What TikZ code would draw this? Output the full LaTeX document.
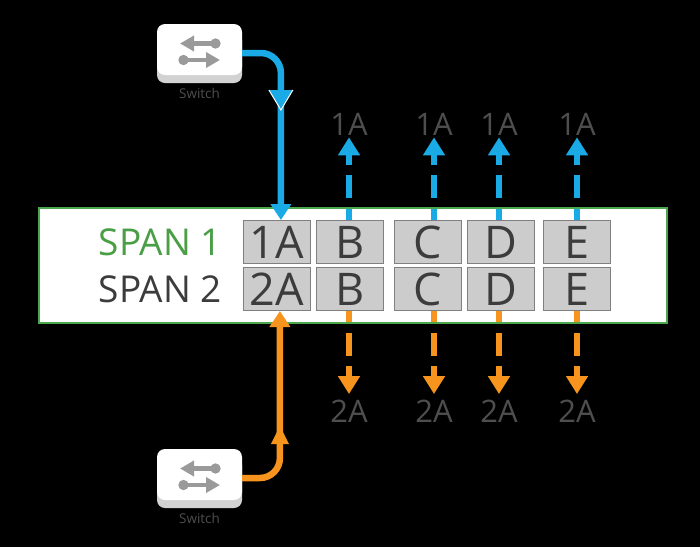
\documentclass[tikz,border=0pt]{standalone}
\usepackage{fontspec}
\setmainfont{Open Sans}
\usepackage{xcolor}
\usepackage{tikz}
\usetikzlibrary{arrows.meta,positioning,shadows}
\definecolor{wireblue}{HTML}{1AABE6}
\definecolor{wireorange}{HTML}{F7941E}
\definecolor{rackgreen}{HTML}{4CA64C}
\definecolor{spangreen}{HTML}{4A9E45}
\definecolor{slotfill}{HTML}{CCCCCC}
\definecolor{slotedge}{HTML}{808080}
\definecolor{inkdark}{HTML}{3C3C3C}
\definecolor{inkgray}{HTML}{4E4E4E}
\definecolor{swshade}{HTML}{D2D2D2}
\definecolor{swgray}{HTML}{9A9A9A}

\begin{document}
\begin{tikzpicture}[
  x=1pt, y=-1pt,
  node distance=5pt,
  rack/.style={rectangle, draw=rackgreen, line width=2.5pt, fill=white,
    minimum width=628pt, minimum height=115pt},
  slot/.style={rectangle, draw=slotedge, line width=1pt, fill=slotfill,
    minimum width=67pt, minimum height=43pt, inner sep=0pt, text=inkdark,
    font=\fontsize{45}{45}\selectfont},
  spanlbl/.style={inner sep=0pt, font=\fontsize{37}{37}\selectfont},
  portlbl/.style={inner sep=0pt, text=inkgray, font=\fontsize{31}{31}\selectfont},
  switchbox/.style={rectangle, rounded corners=8pt, fill=white,
    minimum width=85pt, minimum height=51pt,
    drop shadow={shadow xshift=0pt, shadow yshift=-8pt, fill=swshade, opacity=1}},
  swlabel/.style={inner sep=0pt, text=inkgray, font=\fontsize{13.5}{13.5}\selectfont},
  swicon/.style={draw=swgray, line width=4.5pt,
    {Circle[length=10pt]}-{Triangle[width=15pt,length=14pt]}},
  tapline/.style={line width=6.5pt,
    dash pattern=on 11pt off 11pt on 23pt off 10pt on 80pt,
    -{Triangle[width=21pt,length=18pt]}},
  feed/.style={line width=6.5pt, rounded corners=20pt,
    -{Triangle[width=20pt,length=16pt]}}
]
  \path[use as bounding box, fill=black] (0,0) rectangle (700,547);

  % chassis and the two spans
  \node[rack] (rack) at (353,265.5) {};
  \node[slot] (s1a) at (276.9,242) {1A};
  \node[slot, right=of s1a] (s1b) {B};
  \node[slot, right=10pt of s1b] (s1c) {C};
  \node[slot, right=of s1c] (s1d) {D};
  \node[slot, right=8pt of s1d] (s1e) {E};
  \node[slot, below=3pt of s1a] (s2a) {2A};
  \node[slot, below=3pt of s1b] (s2b) {B};
  \node[slot, below=3pt of s1c] (s2c) {C};
  \node[slot, below=3pt of s1d] (s2d) {D};
  \node[slot, below=3pt of s1e] (s2e) {E};
  \node[spanlbl, text=spangreen, left=21pt of s1a] (span1) {SPAN 1};
  \node[spanlbl, text=inkdark, left=21pt of s2a] (span2) {SPAN 2};

  % mirrored ports
  \node[portlbl] (upb) at (349,124) {1A};
  \node[portlbl] (upc) at (434,124) {1A};
  \node[portlbl] (upd) at (499,124) {1A};
  \node[portlbl] (upe) at (577,124) {1A};
  \node[portlbl] (dnb) at (349,411.5) {2A};
  \node[portlbl] (dnc) at (434,411.5) {2A};
  \node[portlbl] (dnd) at (499,411.5) {2A};
  \node[portlbl] (dne) at (577,411.5) {2A};

  \foreach \c in {b,c,d,e} {
    \draw[tapline, draw=wireblue, shorten >=2pt] (s1\c.north -| up\c) -- (up\c.south);
    \draw[tapline, draw=wireorange, shorten >=6pt] (s2\c.south -| dn\c) -- (dn\c.north);
  }

  % switches
  \node[switchbox] (sw1) at (199.5,49.5) {};
  \node[switchbox] (sw2) at (199.5,474.5) {};
  \foreach \sw in {sw1,sw2} {
    \draw[swicon] ([shift={(21,-6)}]\sw.center) -- ([shift={(-19.5,-6)}]\sw.center);
    \draw[swicon] ([shift={(-21,10.5)}]\sw.center) -- ([shift={(20.5,10.5)}]\sw.center);
    \node[swlabel, below=13pt of \sw] (\sw-lbl) {Switch};
  }

  \draw[feed, draw=wireblue] ([yshift=-3.5pt]sw1.east) -| ([xshift=4pt]s1a.north);
  \draw[feed, draw=wireorange] ([yshift=-3.5pt]sw2.east) -| ([xshift=3pt]s2a.south);
  % arrowheads halfway along the feeds
  \fill[wireblue] (268.9,90) -- (292.9,90) -- (280.9,110) -- cycle;
  \draw[white, line width=1pt] (268.9,90) -- (280.9,110) -- (292.9,90);
  \fill[wireorange] (270.9,444) -- (288.9,444) -- (279.9,426) -- cycle;
\end{tikzpicture}
\end{document}
